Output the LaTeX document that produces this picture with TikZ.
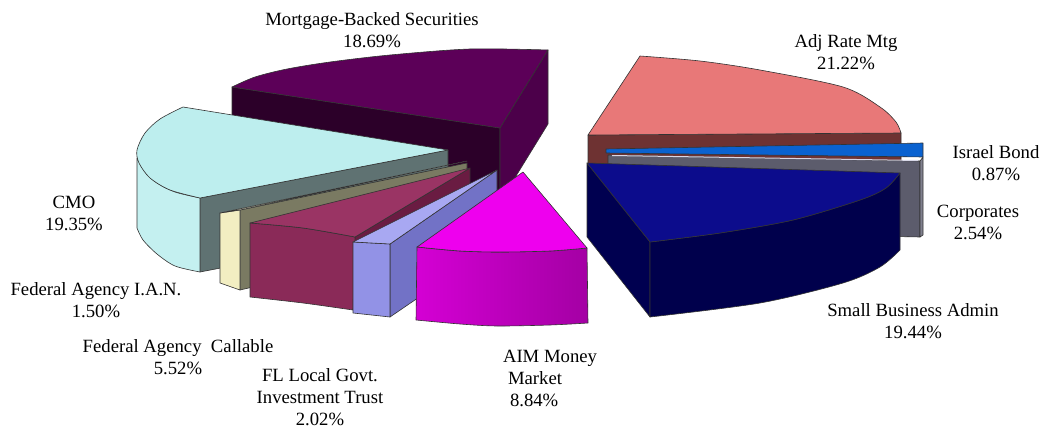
\documentclass[tikz,border=0pt]{standalone}
\usepackage{fontspec}
\setmainfont{Liberation Serif}
\definecolor{mbsT}{HTML}{5C0058}
\definecolor{mbsL}{HTML}{2C0029}
\definecolor{mbsR}{HTML}{4C004A}
\definecolor{adjT}{HTML}{E87878}
\definecolor{adjF}{HTML}{6E3232}
\definecolor{israel}{HTML}{0A62D0}
\definecolor{corpF}{HTML}{5C5C6C}
\definecolor{corpS}{HTML}{80808E}
\definecolor{corpT}{HTML}{D8D8E8}
\definecolor{cmoT}{HTML}{BDEEEE}
\definecolor{cmoO}{HTML}{C4F0F0}
\definecolor{cmoF}{HTML}{5F7272}
\definecolor{tanT}{HTML}{FAF6D8}
\definecolor{tanF}{HTML}{F2EEC2}
\definecolor{tanS}{HTML}{7A7A62}
\definecolor{marT}{HTML}{9A3464}
\definecolor{marF}{HTML}{8A2A58}
\definecolor{marS}{HTML}{6A1C42}
\definecolor{lavT}{HTML}{A8A8F2}
\definecolor{lavF}{HTML}{9292E6}
\definecolor{lavS}{HTML}{7272C6}
\definecolor{magT}{HTML}{EE00EE}
\definecolor{magL}{HTML}{D400D4}
\definecolor{magR}{HTML}{A400A4}
\definecolor{sbaT}{HTML}{0C0C8C}
\definecolor{sbaL}{HTML}{000050}
\definecolor{sbaO}{HTML}{00004C}
\begin{document}
\begin{tikzpicture}[x=1pt,y=-1pt,
  face/.style={draw=black!80, line width=0.6pt, line join=round},
  lbl/.style={font=\fontsize{18.7}{22}\selectfont, align=center, inner sep=0pt, text=black}]
\useasboundingbox (0,0) rectangle (1046,428);

% Mortgage-Backed Securities
\path[face, fill=mbsL] (232,87) -- (500,128) -- (500,202) -- (232,161) -- cycle;
\path[face, fill=mbsR] (548,50) -- (500,128) -- (500,202) -- (548,124) -- cycle;
\path[face, fill=mbsT] plot[smooth] coordinates {(232,87) (255,77) (287,69) (330,62) (390,55) (470,49) (548,50)} -- (500,128) -- cycle;

% Adj Rate Mtg
\path[face, fill=adjF] (588,135) -- (901,133) -- (901,207) -- (588,209) -- cycle;
\path[face, fill=adjT] plot[smooth] coordinates {(640,56) (700,61) (760,70) (843,87) (880,107) (896,122) (901,133)} -- (588,135) -- cycle;

% Israel Bond
\path[face, fill=israel] (606,149) -- (923,143) -- (923,157) -- (606,153) -- cycle;

% Corporates
\path[face, fill=corpF] (608,155) -- (920,161) -- (920,237) -- (608,231) -- cycle;
\path[face, fill=corpS] (920,161) -- (923,157) -- (923,235) -- (920,237) -- cycle;
\draw[corpT, line width=1pt] (612,155.5) -- (918,160.5);

% CMO
\path[face, fill=cmoF] (200,198) -- (448,150) -- (448,224) -- (200,272) -- cycle;
\path[face, fill=cmoO] plot[smooth] coordinates {(137,158) (145,172) (157,183) (175,192) (200,198)} -- (200,272) -- plot[smooth] coordinates {(200,272) (175,266) (157,254) (143,240) (137,228)} -- cycle;
\path[face, fill=cmoT] plot[smooth] coordinates {(183,107) (160,119) (145,133) (137,150) (139,163) (150,178) (170,190) (200,198)} -- (448,150) -- cycle;

% Federal Agency I.A.N.
\path[face, fill=tanS] (240,210) -- (467,163) -- (467,237) -- (240,290) -- cycle;
\path[face, fill=tanF] (220,213) -- (240,210) -- (240,290) -- (220,283) -- cycle;
\path[face, fill=tanT] (220,213) -- (467,161) -- (240,210) -- cycle;

% Federal Agency Callable
\path[face, fill=marS] (355,237) -- (470,168) -- (470,242) -- (353,310) -- cycle;
\path[face, fill=marF] plot[smooth] coordinates {(250,223) (303,228) (355,237)} -- (353,310) -- plot[smooth] coordinates {(353,310) (303,303) (250,297)} -- cycle;
\path[face, fill=marT] plot[smooth] coordinates {(250,223) (303,228) (355,237)} -- (470,168) -- cycle;

% FL Local Govt. Investment Trust
\path[face, fill=lavS] (390,244) -- (497,170) -- (497,244) -- (390,317) -- cycle;
\path[face, fill=lavF] (353,242) -- (390,244) -- (390,317) -- (353,313) -- cycle;
\path[face, fill=lavT] (353,242) -- (497,170) -- (390,244) -- cycle;

% AIM Money Market
\path[face, left color=magL, right color=magR] plot[smooth] coordinates {(417,247) (460,251) (500,252) (550,251) (587,248)} -- (588,323) -- plot[smooth] coordinates {(588,323) (550,325) (497,326) (460,324) (416,320)} -- cycle;
\path[face, fill=magT] plot[smooth] coordinates {(417,247) (460,251) (500,252) (550,251) (587,248)} -- (523,172) -- cycle;

% Small Business Admin
\path[face, fill=sbaL] (587,163) -- (650,242) -- (650,317) -- (587,237) -- cycle;
\path[face, fill=sbaO] plot[smooth] coordinates {(650,242) (720,233) (793,220) (860,200) (886,188) (900,173)} -- (900,250) -- plot[smooth] coordinates {(900,250) (880,267) (843,283) (760,303) (650,317)} -- cycle;
\path[face, fill=sbaT] (587,163) -- (900,173) -- plot[smooth] coordinates {(900,173) (886,188) (860,200) (793,220) (720,233) (650,242)} -- cycle;

% Labels
\node[lbl] (lmbs) at (372,30) {Mortgage-Backed Securities\\18.69\%};
\node[lbl] (ladj) at (846,52) {Adj Rate Mtg\\21.22\%};
\node[lbl] (lisr) at (996,163) {Israel Bond\\0.87\%};
\node[lbl] (lcorp) at (978,222) {Corporates\\2.54\%};
\node[lbl] (lsba) at (913,321) {Small Business Admin\\19.44\%};
\node[lbl] (lcmo) at (74,213) {CMO\\19.35\%};
\node[lbl] (lian) at (96,300) {Federal Agency I.A.N.\\1.50\%};
\node[lbl] (lcall) at (178,357) {Federal Agency\ \ Callable\\5.52\%};
\node[lbl] (lfl) at (320,397) {FL Local Govt.\\Investment Trust\\2.02\%};
\node[lbl, align=left] (laim) at (550,378) {AIM Money\\\hspace{5pt}Market\\\hspace{7pt}8.84\%};
\end{tikzpicture}
\end{document}
